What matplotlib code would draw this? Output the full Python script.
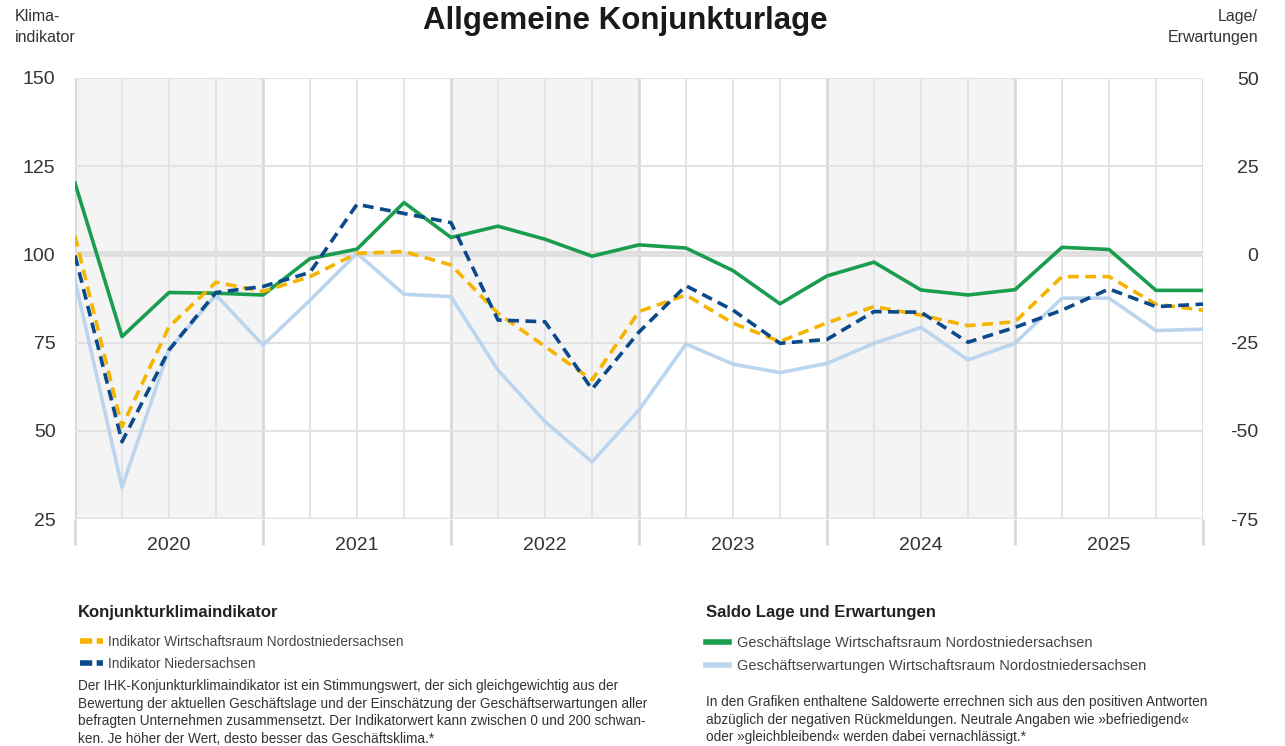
import matplotlib.pyplot as plt
from matplotlib.lines import Line2D

plt.rcParams['font.family'] = ['Liberation Sans', 'DejaVu Sans']
plt.rcParams['axes.unicode_minus'] = False

# quarterly points, 2020 .. 2025 (index 0 = first survey 2020)
quarters = list(range(25))
years = ['2020', '2021', '2022', '2023', '2024', '2025']

# Konjunkturklimaindikator (left axis)
klima_nordost = [105.2, 51.2, 79.5, 92.1, 89.5, 93.7, 100.3, 100.8, 97.0, 83.3, 73.9, 64.4, 83.8,
                 88.5, 80.5, 75.3, 80.6, 85.2, 82.8, 79.8, 80.9, 93.7, 93.7, 85.9, 84.2]
klima_nds = [99.7, 46.9, 72.9, 89.2, 90.9, 94.9, 114.2, 111.6, 109.0, 81.4, 80.9, 61.8, 78.0,
             91.1, 84.2, 74.8, 75.9, 83.8, 83.6, 75.1, 79.3, 84.2, 90.2, 85.2, 85.9]

# Saldo Lage / Erwartungen (right axis)
lage = [20.2, -23.3, -10.8, -11.0, -11.5, -1.2, 1.5, 14.7, 4.8, 8.0, 4.3, -0.5, 2.7,
        1.8, -4.6, -14.0, -6.1, -2.2, -10.1, -11.5, -10.0, 2.0, 1.4, -10.2, -10.2]
erwartungen = [-7.3, -66.0, -27.0, -11.5, -25.7, -13.0, 0.3, -11.3, -12.0, -32.8, -47.4, -58.8, -44.1,
               -25.4, -31.1, -33.5, -30.9, -25.2, -20.7, -29.9, -25.2, -12.4, -12.4, -21.6, -21.2]

left_ticks = [25, 50, 75, 100, 125, 150]
right_ticks = [-75, -50, -25, 0, 25, 50]

GREEN = '#1a9d4f'
LIGHTBLUE = '#bcd5ef'
YELLOW = '#f5b400'
DARKBLUE = '#0a4a8a'
GRID = '#e2e2e2'
TXT = '#333333'

W, H = 1285, 746
fig = plt.figure(figsize=(W / 100, H / 100), dpi=100)
ax = fig.add_axes([75 / W, 1 - 519 / H, 1128 / W, 441 / H])
ax2 = ax.twinx()

ax.set_xlim(0, 24)
ax.set_ylim(25, 150)
ax2.set_ylim(-75, 50)

# shaded years 2020, 2022, 2024
for i in range(0, 6, 2):
    ax.axvspan(4 * i, 4 * i + 4, color='#f4f4f4', lw=0, zorder=0)

ax.set_yticks(left_ticks)
ax2.set_yticks(right_ticks)
ax.yaxis.grid(True, color=GRID, lw=1.5, zorder=1)
ax.axhline(100, color='#dcdcdc', lw=4, zorder=1)
ax.axhline(25, color='#dcdcdc', lw=2.5, zorder=1)

ax.set_xticks(range(0, 25, 4))
ax.set_xticks(quarters, minor=True)
ax.set_xticklabels([])
ax.xaxis.grid(True, which='minor', color=GRID, lw=1.3, zorder=1)
ax.xaxis.grid(True, which='major', color='#d9d9d9', lw=2, zorder=1)
ax.tick_params(axis='x', which='major', length=19, width=2, color='#d9d9d9', direction='out')
ax.tick_params(axis='x', which='minor', length=0)
for i, yr in enumerate(years):
    ax.text(4 * i + 2, -0.059, yr, transform=ax.get_xaxis_transform(),
            ha='center', va='center', fontsize=14, color=TXT)

ax.tick_params(axis='y', length=0, pad=14, labelsize=14, labelcolor=TXT)
ax2.tick_params(axis='y', length=0, pad=40, labelsize=14, labelcolor=TXT)
for lab in ax2.get_yticklabels():
    lab.set_horizontalalignment('right')

for a in (ax, ax2):
    for s in a.spines.values():
        s.set_visible(False)

# saldo lines use the right axis scale, drawn on ax to keep the stacking order
ax.plot(quarters, erwartungen, color=LIGHTBLUE, lw=2.6, transform=ax2.transData, zorder=3)
ax.plot(quarters, lage, color=GREEN, lw=2.6, transform=ax2.transData, zorder=3)
ax.plot(quarters, klima_nordost, color=YELLOW, lw=2.6, dashes=(3, 1.8), zorder=4)
ax.plot(quarters, klima_nds, color=DARKBLUE, lw=2.6, dashes=(3, 1.8), zorder=4)
ax.set_xlim(0, 24)
ax.set_ylim(25, 150)

# titles
fig.text(625 / W, 1 - 21 / H, 'Allgemeine Konjunkturlage', ha='center', va='center',
         fontsize=22.5, weight='bold', color='#1a1a1a')
fig.text(15 / W, 1 - 27 / H, 'Klima-\nindikator', ha='left', va='center',
         fontsize=11.5, color=TXT, linespacing=1.45)
fig.text(1258 / W, 1 - 27 / H, 'Lage/\nErwartungen', ha='right', va='center',
         fontsize=11.5, color=TXT, linespacing=1.45, multialignment='right')

# legend blocks
fig.text(78 / W, 1 - 612 / H, 'Konjunkturklimaindikator', ha='left', va='center',
         fontsize=12, weight='bold', color='#222222')
fig.text(706 / W, 1 - 612 / H, 'Saldo Lage und Erwartungen', ha='left', va='center',
         fontsize=12, weight='bold', color='#222222')

h1 = [Line2D([], [], color=YELLOW, lw=4, dashes=(2.2, 0.8)),
      Line2D([], [], color=DARKBLUE, lw=4, dashes=(2.2, 0.8))]
leg1 = fig.legend(h1, ['Indikator Wirtschaftsraum Nordostniedersachsen', 'Indikator Niedersachsen'],
                  loc='upper left', bbox_to_anchor=(80 / W, 1 - 635 / H), frameon=False,
                  fontsize=9.8, labelcolor='#444444', handlelength=1.7, handletextpad=0.35,
                  labelspacing=0.6, borderpad=0, borderaxespad=0)
h2 = [Line2D([], [], color=GREEN, lw=4), Line2D([], [], color=LIGHTBLUE, lw=4)]
leg2 = fig.legend(h2, ['Geschäftslage Wirtschaftsraum Nordostniedersachsen',
                       'Geschäftserwartungen Wirtschaftsraum Nordostniedersachsen'],
                  loc='upper left', bbox_to_anchor=(706 / W, 1 - 636 / H), frameon=False,
                  fontsize=10.5, labelcolor='#444444', handlelength=1.6, handletextpad=0.55,
                  labelspacing=0.6, borderpad=0, borderaxespad=0)

note1 = ('Der IHK-Konjunkturklimaindikator ist ein Stimmungswert, der sich gleichgewichtig aus der\n'
         'Bewertung der aktuellen Geschäftslage und der Einschätzung der Geschäftserwartungen aller\n'
         'befragten Unternehmen zusammensetzt. Der Indikatorwert kann zwischen 0 und 200 schwan-\n'
         'ken. Je höher der Wert, desto besser das Geschäftsklima.*')
note2 = ('In den Grafiken enthaltene Saldowerte errechnen sich aus den positiven Antworten\n'
         'abzüglich der negativen Rückmeldungen. Neutrale Angaben wie »befriedigend«\n'
         'oder »gleichbleibend« werden dabei vernachlässigt.*')
fig.text(78 / W, 1 - 679 / H, note1, ha='left', va='top', fontsize=9.8, color='#333333',
         linespacing=1.34)
fig.text(706 / W, 1 - 695 / H, note2, ha='left', va='top', fontsize=9.8, color='#333333',
         linespacing=1.34)

fig.savefig('out.png', dpi=100, facecolor='white')
